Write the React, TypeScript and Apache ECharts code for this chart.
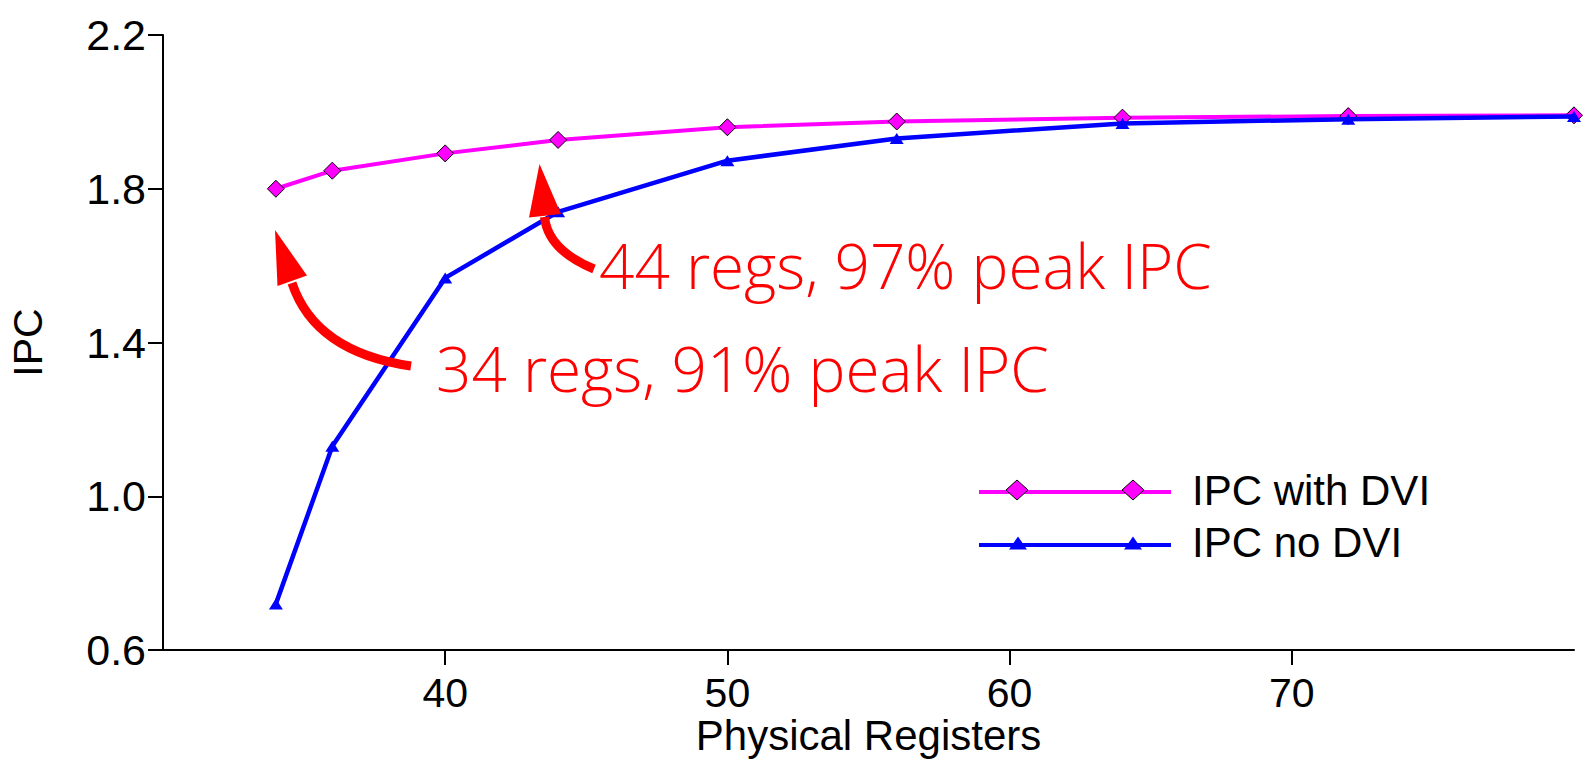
import React, { useEffect, useRef } from "react";
import * as echarts from "echarts";

// ---- data ----
const registers = [34, 36, 40, 44, 50, 56, 64, 72, 80];
const ipcWithDVI = [1.8, 1.847, 1.892, 1.927, 1.96, 1.975, 1.985, 1.989, 1.991];
const ipcNoDVI = [0.72, 1.13, 1.568, 1.74, 1.873, 1.931, 1.97, 1.981, 1.988];
const xTicks = [40, 50, 60, 70];
const yTicks = [0.6, 1.0, 1.4, 1.8, 2.2];
const seriesNames = ["IPC with DVI", "IPC no DVI"];
const annotationTexts = ["44 regs, 97% peak IPC", "34 regs, 91% peak IPC"];
const xAxisTitle = "Physical Registers";
const yAxisTitle = "IPC";

const FONT = "'Liberation Sans', Arial, Helvetica, sans-serif";
const ANNO_FONT = "'Open Sans', 'DejaVu Sans', sans-serif";
const PINK = "#ff00ff";
const BLUE = "#0000ff";
const RED = "#ff0000";

export default function App() {
  const ref = useRef<HTMLDivElement | null>(null);

  useEffect(() => {
    if (!ref.current) return;
    const chart = echarts.init(ref.current, undefined, { renderer: "svg" });

    const withData = registers.map((x, i) => [x, ipcWithDVI[i]]);
    const noData = registers.map((x, i) => [x, ipcNoDVI[i]]);

    const diamond = (cx: number, cy: number, hw: number, hh: number) => [
      [cx, cy - hh],
      [cx + hw, cy],
      [cx, cy + hh],
      [cx - hw, cy],
    ];
    const triangle = (cx: number, cy: number, hw: number, hh: number) => [
      [cx, cy - hh],
      [cx + hw, cy + hh],
      [cx - hw, cy + hh],
    ];

    const option: any = {
      animation: false,
      backgroundColor: "#ffffff",
      grid: {
        left: 163,
        right: 9,
        top: 35,
        bottom: 112,
        containLabel: false,
        outerBoundsMode: "none",
      },
      xAxis: {
        type: "value",
        min: 30,
        max: 80,
        name: xAxisTitle,
        nameLocation: "middle",
        nameGap: 65,
        nameMoveOverlap: false,
        nameTextStyle: { fontFamily: FONT, fontSize: 42, lineHeight: 40, color: "#000" },
        axisLine: { show: true, onZero: false, lineStyle: { color: "#000", width: 2 } },
        axisTick: {
          show: true,
          length: 15,
          customValues: xTicks,
          lineStyle: { color: "#000", width: 2 },
        },
        axisLabel: {
          customValues: xTicks,
          fontFamily: FONT,
          fontSize: 41,
          lineHeight: 38,
          color: "#000",
          margin: 24,
        },
        splitLine: { show: false },
      },
      yAxis: {
        type: "value",
        min: 0.6,
        max: 2.2,
        name: yAxisTitle,
        nameLocation: "middle",
        nameGap: 115,
        nameMoveOverlap: false,
        nameTextStyle: { fontFamily: FONT, fontSize: 41, color: "#000" },
        axisLine: { show: true, onZero: false, lineStyle: { color: "#000", width: 2 } },
        axisTick: {
          show: true,
          length: 15,
          customValues: yTicks,
          lineStyle: { color: "#000", width: 2 },
        },
        axisLabel: {
          customValues: yTicks,
          fontFamily: FONT,
          fontSize: 43,
          color: "#000",
          margin: 17,
          formatter: (v: number) => v.toFixed(1),
        },
        splitLine: { show: false },
      },
      series: [
        {
          name: seriesNames[0],
          type: "line",
          data: withData,
          symbol: "diamond",
          symbolSize: [17, 17],
          showAllSymbol: true,
          lineStyle: { color: PINK, width: 4 },
          itemStyle: { color: PINK, borderColor: "#000", borderWidth: 1 },
          z: 2,
        },
        {
          name: seriesNames[1],
          type: "line",
          data: noData,
          symbol: "triangle",
          symbolSize: [14, 11],
          showAllSymbol: true,
          lineStyle: { color: BLUE, width: 4.5 },
          itemStyle: { color: BLUE },
          z: 3,
        },
      ],
      graphic: [
        // legend
        {
          type: "line",
          shape: { x1: 979, y1: 492, x2: 1171, y2: 492 },
          style: { stroke: PINK, lineWidth: 4 },
          z: 10,
        },
        {
          type: "polygon",
          shape: { points: diamond(1017, 490, 11, 10) },
          style: { fill: PINK, stroke: "#000", lineWidth: 1 },
          z: 11,
        },
        {
          type: "polygon",
          shape: { points: diamond(1133, 490, 11, 10) },
          style: { fill: PINK, stroke: "#000", lineWidth: 1 },
          z: 11,
        },
        {
          type: "text",
          x: 1192,
          y: 490,
          style: {
            text: seriesNames[0],
            fontFamily: FONT,
            fontSize: 42,
            fill: "#000",
            verticalAlign: "middle",
            align: "left",
          },
          z: 11,
        },
        {
          type: "line",
          shape: { x1: 979, y1: 545, x2: 1171, y2: 545 },
          style: { stroke: BLUE, lineWidth: 4 },
          z: 10,
        },
        {
          type: "polygon",
          shape: { points: triangle(1018, 543, 9, 6.5) },
          style: { fill: BLUE },
          z: 11,
        },
        {
          type: "polygon",
          shape: { points: triangle(1133, 543, 9, 6.5) },
          style: { fill: BLUE },
          z: 11,
        },
        {
          type: "text",
          x: 1192,
          y: 542,
          style: {
            text: seriesNames[1],
            fontFamily: FONT,
            fontSize: 42,
            fill: "#000",
            verticalAlign: "middle",
            align: "left",
          },
          z: 11,
        },
        // annotation arrows
        {
          type: "bezierCurve",
          shape: { x1: 411, y1: 366, x2: 292, y2: 283, cpx1: 315, cpy1: 352 },
          style: { stroke: RED, lineWidth: 9, fill: "none" },
          z: 20,
        },
        {
          type: "polygon",
          shape: { points: [[275, 230], [277.5, 286], [307, 275.5]] },
          style: { fill: RED },
          z: 20,
        },
        {
          type: "bezierCurve",
          shape: { x1: 594, y1: 269, x2: 544.5, y2: 217, cpx1: 548, cpy1: 250 },
          style: { stroke: RED, lineWidth: 9, fill: "none" },
          z: 20,
        },
        {
          type: "polygon",
          shape: { points: [[539.5, 164], [529, 217.5], [561, 214]] },
          style: { fill: RED },
          z: 20,
        },
        // annotation texts
        {
          type: "text",
          x: 599,
          y: 234,
          style: {
            text: annotationTexts[0],
            fontFamily: ANNO_FONT,
            fontWeight: 300,
            fontSize: 62,
            fill: RED,
            verticalAlign: "top",
            align: "left",
          },
          z: 20,
        },
        {
          type: "text",
          x: 436,
          y: 337,
          style: {
            text: annotationTexts[1],
            fontFamily: ANNO_FONT,
            fontWeight: 300,
            fontSize: 62,
            fill: RED,
            verticalAlign: "top",
            align: "left",
          },
          z: 20,
        },
      ],
    };

    chart.setOption(option);
    return () => {
      chart.dispose();
    };
  }, []);

  return (
    <div
      ref={ref}
      style={{ position: "fixed", left: 0, top: 0, width: 1583, height: 762, background: "#fff" }}
    />
  );
}
